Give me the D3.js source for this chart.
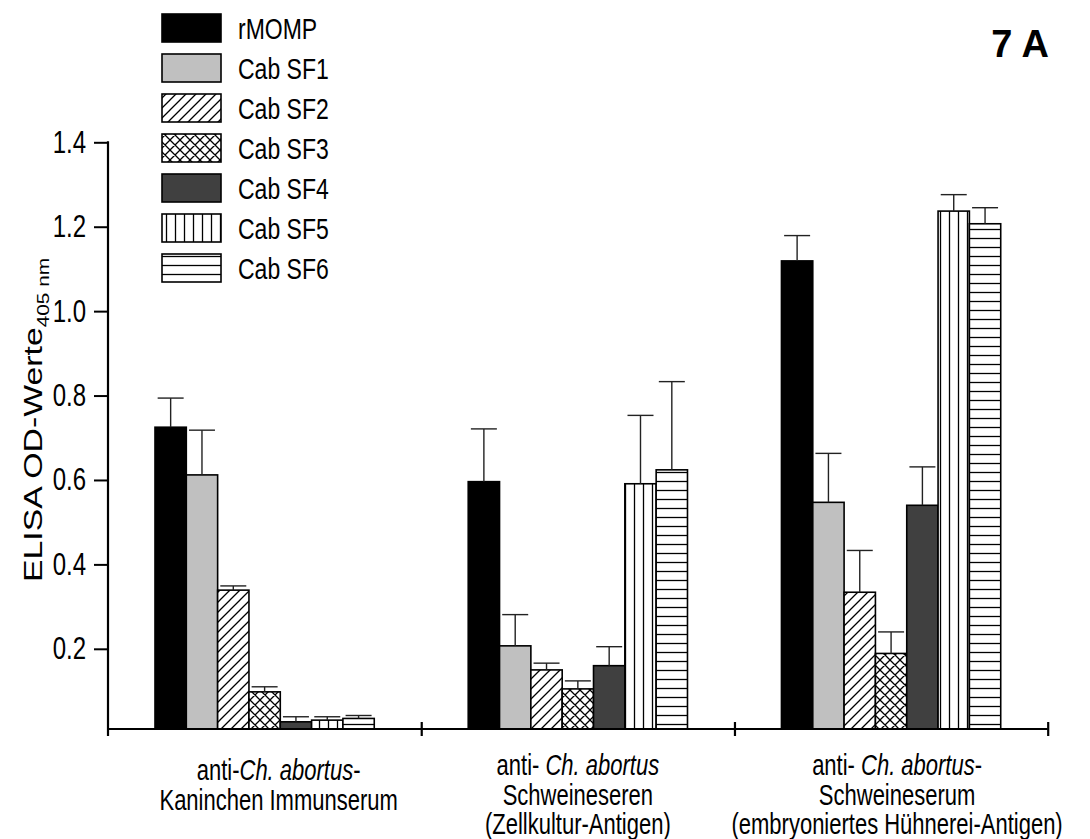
<!DOCTYPE html>
<html>
<head>
<meta charset="utf-8">
<script src="https://cdn.jsdelivr.net/npm/d3@7"></script>
<style>
  body { margin: 0; background: #fff; }
  text { font-family: "Liberation Sans", Arial, sans-serif; fill: #000; }
</style>
</head>
<body>
<svg id="chart" width="1090" height="839"></svg>
<script>
// categories (x groups), label lines use <i> for italic parts
var groups = ["kaninchen", "zellkultur", "huehnerei"];
var groupLabels = [
  ["anti-<i>Ch. abortus</i>-", "Kaninchen Immunserum"],
  ["anti- <i>Ch. abortus</i>", "Schweineseren", "(Zellkultur-Antigen)"],
  ["anti- <i>Ch. abortus</i>-", "Schweineserum", "(embryoniertes Hühnerei-Antigen)"]
];

var series = ["rMOMP", "Cab SF1", "Cab SF2", "Cab SF3", "Cab SF4", "Cab SF5", "Cab SF6"];

// mean OD per series, one value per group
var rMOMP = [0.725, 0.596, 1.119];
var sf1   = [0.612, 0.207, 0.547];
var sf2   = [0.339, 0.150, 0.334];
var sf3   = [0.098, 0.105, 0.189];
var sf4   = [0.027, 0.160, 0.540];
var sf5   = [0.031, 0.591, 1.237];
var sf6   = [0.035, 0.624, 1.207];

// upper error (SD)
var rMOMPerr = [0.069, 0.125, 0.060];
var sf1err   = [0.106, 0.074, 0.116];
var sf2err   = [0.010, 0.016, 0.099];
var sf3err   = [0.012, 0.019, 0.051];
var sf4err   = [0.012, 0.045, 0.091];
var sf5err   = [0.008, 0.162, 0.039];
var sf6err   = [0.007, 0.209, 0.038];

var yTicks = [0.2, 0.4, 0.6, 0.8, 1.0, 1.2, 1.4];
var yMin = 0.01, yMax = 1.4;

var means = [rMOMP, sf1, sf2, sf3, sf4, sf5, sf6];
var errs = [rMOMPerr, sf1err, sf2err, sf3err, sf4err, sf5err, sf6err];
var fills = ["#000", "#c0c0c0", "url(#diag)", "url(#cross)", "#404040", "url(#vert)", "url(#horiz)"];

var svg = d3.select("#chart");
var left = 108, right = 1047.7, base = 729, plotTop = 142.3;
var stretch = 1.3; // text in the original figure is drawn taller than wide

var x0 = d3.scaleBand().domain(groups).range([left, right]).paddingInner(0.3).paddingOuter(0.15);
var x1 = d3.scaleBand().domain(series).range([0, x0.bandwidth()]);
var y = d3.scaleLinear().domain([yMin, yMax]).range([base, plotTop]);

// hatch patterns
var defs = svg.append("defs");
function pat(id, w, h, d) {
  var p = defs.append("pattern").attr("id", id).attr("patternUnits", "userSpaceOnUse")
    .attr("width", w).attr("height", h);
  p.append("rect").attr("width", w).attr("height", h).attr("fill", "#fff");
  p.append("path").attr("d", d).attr("stroke", "#000").attr("stroke-width", 1.3).attr("fill", "none");
}
pat("diag", 10, 10, "M-1,11 L11,-1 M-1,1 L1,-1 M9,11 L11,9");
pat("cross", 10, 10, "M-1,11 L11,-1 M-1,1 L1,-1 M9,11 L11,9 M-1,-1 L11,11 M-1,9 L1,11 M9,-1 L11,1");
pat("vert", 9, 10, "M4.5,0 L4.5,10");
pat("horiz", 10, 9, "M0,4.5 L10,4.5");

// bars
var rows = [];
groups.forEach(function (g, gi) {
  series.forEach(function (s, si) {
    rows.push({ g: g, s: s, si: si, v: means[si][gi], e: errs[si][gi] });
  });
});

var bars = svg.append("g");
bars.selectAll("rect").data(rows).enter().append("rect")
  .attr("x", d => x0(d.g) + x1(d.s))
  .attr("y", d => y(d.v))
  .attr("width", x1.bandwidth())
  .attr("height", d => y(yMin) - y(d.v))
  .attr("fill", d => fills[d.si])
  .attr("stroke", "#000")
  .attr("stroke-width", 1.6);

// error bars (upper only)
var eb = svg.append("g").attr("stroke", "#222").attr("stroke-width", 1.4);
function cx(d) { return x0(d.g) + x1(d.s) + x1.bandwidth() / 2; }
eb.selectAll(".ev").data(rows).enter().append("line")
  .attr("x1", cx).attr("x2", cx)
  .attr("y1", d => y(d.v))
  .attr("y2", d => y(d.v + d.e));
eb.selectAll(".ec").data(rows).enter().append("line")
  .attr("x1", d => cx(d) - 13)
  .attr("x2", d => cx(d) + 13)
  .attr("y1", d => y(d.v + d.e))
  .attr("y2", d => y(d.v + d.e));

// y axis
var yAxis = svg.append("g").attr("transform", "translate(" + left + ",0)")
  .call(d3.axisLeft(y).tickValues(yTicks).tickFormat(d3.format(".1f")).tickSize(14).tickPadding(8).tickSizeOuter(0));
yAxis.select(".domain").remove();
yAxis.selectAll(".tick line").attr("stroke", "#000").attr("stroke-width", 2);
yAxis.selectAll(".tick text").style("font-size", "24px").attr("fill", "#000")
  .attr("transform", "scale(1," + stretch + ")");
svg.append("line").attr("x1", left).attr("x2", left).attr("y1", plotTop - 1).attr("y2", base + 7)
  .attr("stroke", "#000").attr("stroke-width", 2.2);

// x axis with ticks at group boundaries
var xb = d3.scaleLinear().domain([0, groups.length]).range([left, right]);
var xAxis = svg.append("g").attr("transform", "translate(0," + base + ")")
  .call(d3.axisBottom(xb).tickValues(d3.range(1, groups.length + 1)).tickFormat("").tickSizeOuter(0));
xAxis.select(".domain").remove();
xAxis.selectAll(".tick line").attr("y1", -7).attr("y2", 7).attr("stroke", "#000").attr("stroke-width", 2.2);
svg.append("line").attr("x1", left).attr("x2", right).attr("y1", base).attr("y2", base)
  .attr("stroke", "#000").attr("stroke-width", 2.2);

// stretched text helper
function stext(px, py, size, rot) {
  var g = svg.append("g").attr("transform", "translate(" + px + "," + py + ") scale(1," + stretch + ")" + (rot ? " rotate(" + rot + ")" : ""));
  return g.append("text").style("font-size", size + "px");
}

// group labels
var labelNudge = [14, 0, 6];
groupLabels.forEach(function (lines, gi) {
  var gx = x0(groups[gi]) + x0.bandwidth() / 2 + labelNudge[gi];
  var y0 = lines.length < 3 ? 780 : 775;
  lines.forEach(function (ln, li) {
    var t = stext(gx, y0 + li * 29.5, 22).attr("text-anchor", "middle");
    ln.split(/(<i>.*?<\/i>)/).filter(s => s.length).forEach(function (part) {
      var it = part.indexOf("<i>") === 0;
      t.append("tspan").text(it ? part.slice(3, -4) : part).style("font-style", it ? "italic" : "normal");
    });
  });
});

// y title
var yt = stext(42, 420, 26, -90).attr("text-anchor", "middle");
yt.append("tspan").text("ELISA OD-Werte");
yt.append("tspan").text("405 nm").style("font-size", "16px").attr("dy", 7);

// legend
var leg = svg.append("g");
series.forEach(function (s, i) {
  leg.append("rect").attr("x", 162).attr("y", 14 + i * 40).attr("width", 59).attr("height", 28)
    .attr("fill", fills[i]).attr("stroke", "#000").attr("stroke-width", 1.6);
  stext(238, 28 + i * 40, 23).attr("dy", "0.36em").text(s);
});

// panel tag
svg.append("text").attr("x", 1049).attr("y", 57).attr("text-anchor", "end")
  .style("font-size", "38px").style("font-weight", "bold").text("7 A");
</script>
</body>
</html>
